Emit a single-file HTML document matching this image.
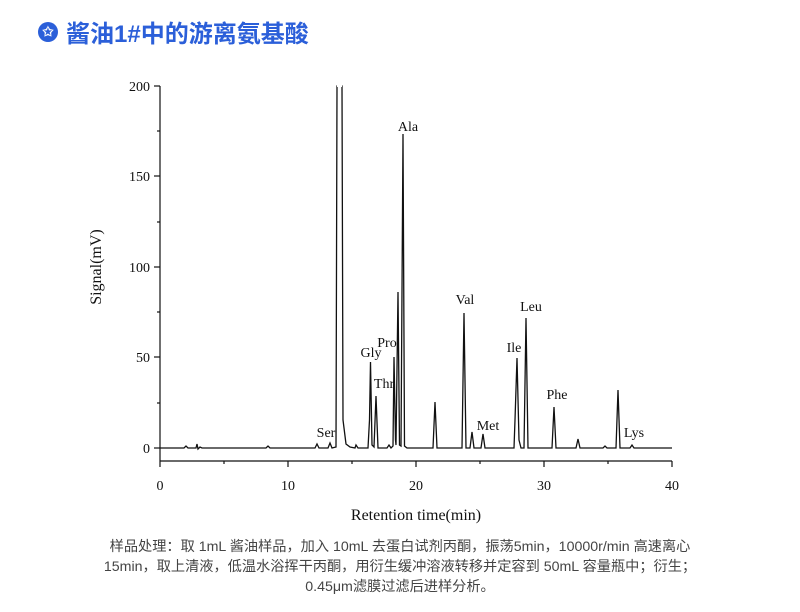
<!DOCTYPE html>
<html><head><meta charset="utf-8"><style>
body{margin:0;width:800px;height:612px;background:#fff;overflow:hidden;position:relative;font-family:"Liberation Sans","Noto Sans CJK SC",sans-serif}
.t{position:absolute;left:38px;top:14px;font-size:24px;font-weight:bold;color:#2b5fd9;font-family:"Liberation Sans","Noto Sans CJK SC",sans-serif;display:flex;align-items:center}
.ic{width:20px;height:20px;border-radius:50%;background:#2b5fd9;color:#fff;font-size:13px;display:inline-flex;align-items:center;justify-content:center;margin-right:8px}
.cap{position:absolute;left:0;width:800px;text-align:center;font-size:14.2px;color:#444;line-height:20px;top:537px}
svg{position:absolute;left:0;top:0}
svg text{font-family:"Liberation Serif",serif;fill:#111}
</style></head><body>
<div class="t"><span class="ic">✩</span>酱油1#中的游离氨基酸</div>
<svg width="800" height="612">
<g stroke="#111" stroke-width="1.2" fill="none">
<line x1="160" y1="86" x2="160" y2="461"/>
<line x1="160" y1="461" x2="672" y2="461"/>
<line x1="154" y1="86" x2="160" y2="86"/><line x1="157" y1="131" x2="160" y2="131"/>
<line x1="154" y1="176" x2="160" y2="176"/><line x1="157" y1="222" x2="160" y2="222"/>
<line x1="154" y1="267" x2="160" y2="267"/><line x1="157" y1="312" x2="160" y2="312"/>
<line x1="154" y1="357" x2="160" y2="357"/><line x1="157" y1="403" x2="160" y2="403"/>
<line x1="154" y1="448" x2="160" y2="448"/>
<line x1="160" y1="461" x2="160" y2="467"/><line x1="224" y1="461" x2="224" y2="464"/>
<line x1="288" y1="461" x2="288" y2="467"/><line x1="352" y1="461" x2="352" y2="464"/>
<line x1="416" y1="461" x2="416" y2="467"/><line x1="480" y1="461" x2="480" y2="464"/>
<line x1="544" y1="461" x2="544" y2="467"/><line x1="608" y1="461" x2="608" y2="464"/>
<line x1="672" y1="461" x2="672" y2="467"/>
<polyline stroke-width="1.3" points="160,448 184,448 186,446 188,448 196,448 197,444 198,449 200,447 202,448 266,448 268,446 270,448 315,448 317,444 319,448 328,448 330,443 332,448 336,447 337,86 342,86 343,420 346,444 350,447 355,448 356,445 358,448 368,448 369.5,420 370.5,362 372,445 374,447 376,396 378,448 387,448 389,445 391,448 393,446 394,357 395.5,440 396,445 398,292 399.5,445 401,446 403,134 404.5,446 407,448 433,448 435,402 437,448 462,448 464,313 466,448 470,448 472,432 474,448 481,448 483,434 485,448 514,448 515,420 517,358 519,440 521,448 524,448 526,318 528,448 552,448 554,407 556,448 576,448 578,439 580,448 603,448 605,446 607,448 616,448 618,390 620,448 630,448 632,445 634,448 672,448"/>
<line x1="337" y1="86" x2="342" y2="86" stroke="#fff" stroke-width="2"/>
</g>
<g font-size="14" text-anchor="end">
<text x="150" y="91">200</text><text x="150" y="181">150</text><text x="150" y="272">100</text><text x="150" y="362">50</text><text x="150" y="453">0</text>
</g>
<g font-size="14" text-anchor="middle">
<text x="160" y="490">0</text><text x="288" y="490">10</text><text x="416" y="490">20</text><text x="544" y="490">30</text><text x="672" y="490">40</text>
<text x="416" y="520" font-size="16">Retention time(min)</text>
<text x="326" y="437">Ser</text><text x="371" y="357">Gly</text><text x="387" y="347">Pro</text><text x="384" y="388">Thr</text>
<text x="408" y="131">Ala</text><text x="465" y="304">Val</text><text x="488" y="430">Met</text><text x="514" y="352">Ile</text>
<text x="531" y="311">Leu</text><text x="557" y="399">Phe</text><text x="634" y="437">Lys</text>
</g>
<text x="101" y="267" font-size="16" text-anchor="middle" transform="rotate(-90 101 267)">Signal(mV)</text>
</svg>
<div class="cap">样品处理：取 1mL 酱油样品，加入 10mL 去蛋白试剂丙酮，振荡5min，10000r/min 高速离心<br>15min，取上清液，低温水浴挥干丙酮，用衍生缓冲溶液转移并定容到 50mL 容量瓶中；衍生；<br>0.45μm滤膜过滤后进样分析。</div>
</body></html>
